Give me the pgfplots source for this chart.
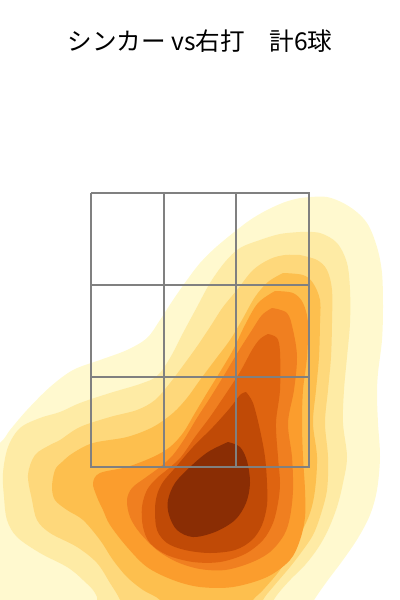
\documentclass[border=0pt]{standalone}
\usepackage{pgfplots}
\pgfplotsset{compat=1.18}
\usepackage{fontspec}
\newfontfamily\cjk{Noto Sans CJK JP}
\definecolor{lv1}{HTML}{FFF9CF}
\definecolor{lv2}{HTML}{FEEBA5}
\definecolor{lv3}{HTML}{FED87B}
\definecolor{lv4}{HTML}{FDBF4E}
\definecolor{lv5}{HTML}{FB9D2D}
\definecolor{lv6}{HTML}{F07F20}
\definecolor{lv7}{HTML}{DF6410}
\definecolor{lv8}{HTML}{C04A06}
\definecolor{lv9}{HTML}{8A2D04}
\definecolor{zone}{HTML}{808080}
\pgfplotsset{
  lvl/.style={fill=#1, draw=none, smooth, tension=0.55},
}
\begin{document}
\begin{tikzpicture}
\begin{axis}[
    hide axis, scale only axis,
    width=10cm, height=15cm,
    xmin=0, xmax=400, ymin=0, ymax=600,
    y dir=reverse, clip=true,
]
% density levels, outermost first (pixel coords of the plot, y down)
\addplot[lvl=lv1] coordinates {
 (300,198) (327,197) (350,207) (367,223) (377,247) (382,273) (383,307) (382,340)
 (378,373) (377,395) (378,423) (380,457) (377,490) (370,515) (358,538) (343,560)
 (328,580) (316,597) (305,615) (290,640) (-40,640) (-40,480) (0,443) (10,430)
 (27,410) (50,387) (73,370) (100,360) (127,350) (147,338) (160,320) (173,300)
 (187,280) (200,263) (215,248) (233,233) (250,220) (267,210) (285,202) (300,198)};
\addplot[lvl=lv2] coordinates {
 (300,232) (320,233) (337,243) (347,263) (350,290) (350,323) (347,357) (344,390)
 (343,423) (347,457) (343,483) (337,507) (328,530) (318,548) (305,565) (290,580)
 (277,595) (268,610) (255,635) (105,635) (97,597) (83,580) (67,567) (40,553)
 (17,537) (7,520) (4,497) (3,473) (8,447) (20,428) (40,418) (60,412) (80,403)
 (110,393) (140,384) (157,376) (170,358) (183,333) (197,307) (210,283) (225,262)
 (240,248) (260,240) (280,234) (300,232)};
\addplot[lvl=lv3] coordinates {
 (300,255) (317,260) (327,270) (332,290) (332,323) (331,357) (328,390) (325,423)
 (328,457) (327,490) (320,517) (313,535) (303,550) (290,567) (273,587) (263,600)
 (255,620) (125,620) (120,600) (110,583) (97,563) (77,547) (50,533) (37,520)
 (32,500) (28,475) (35,455) (50,445) (60,440) (80,427) (110,417) (137,410)
 (155,400) (170,383) (185,363) (198,345) (210,327) (223,307) (237,290) (253,270)
 (270,259) (285,255) (300,255)};
\addplot[lvl=lv4] coordinates {
 (283,273) (303,275) (313,283) (320,300) (320,323) (319,357) (316,390) (313,423)
 (317,457) (315,490) (310,513) (300,535) (290,552) (280,570) (263,590) (253,600)
 (245,615) (165,615) (160,600) (143,590) (127,577) (113,560) (100,540) (83,520)
 (67,510) (55,500) (52,487) (55,470) (62,462) (73,453) (93,443) (127,437)
 (153,427) (173,413) (187,398) (200,380) (215,360) (230,340) (242,320) (255,297)
 (268,282) (283,273)};
\addplot[lvl=lv5] coordinates {
 (275,291) (293,293) (303,303) (308,323) (307,357) (303,390) (302,423) (303,457)
 (305,490) (305,517) (300,540) (290,560) (267,577) (233,587) (200,587) (173,580)
 (147,567) (127,547) (110,525) (103,510) (97,497) (93,483) (100,473) (127,467)
 (153,457) (170,447) (183,433) (195,413) (207,393) (220,372) (233,350) (245,325)
 (258,303) (275,291)};
\addplot[lvl=lv6] coordinates {
 (272,308) (287,313) (293,330) (297,357) (294,390) (288,423) (292,457) (293,490)
 (290,517) (284,535) (270,552) (250,563) (225,570) (200,569) (177,562) (157,550)
 (140,533) (130,517) (127,500) (132,488) (145,478) (160,467) (173,455) (185,438)
 (197,418) (210,398) (223,377) (238,352) (252,330) (262,315) (272,308)};
\addplot[lvl=lv7] coordinates {
 (268,334) (277,338) (280,352) (280,390) (276,423) (278,457) (280,483) (278,503)
 (273,523) (263,540) (245,554) (220,562) (193,562) (167,555) (150,543) (143,527)
 (142,507) (147,490) (157,478) (168,469) (181,457) (195,437) (210,417) (225,395)
 (240,372) (252,350) (260,339) (268,334)};
\addplot[lvl=lv8] coordinates {
 (246,392) (253,403) (260,430) (265,457) (267,483) (267,505) (262,525) (252,540)
 (235,550) (210,553) (185,550) (167,543) (157,530) (155,510) (157,495) (163,482)
 (175,468) (193,447) (213,427) (230,408) (240,395) (246,392)};
\addplot[lvl=lv9] coordinates {
 (228,442) (240,447) (247,461) (250,483) (246,503) (235,520) (215,532) (193,537)
 (177,530) (169,515) (168,500) (175,483) (190,467) (208,452) (228,442)};
% strike zone 3x3
\addplot[zone, line width=0.9pt, line join=miter] coordinates {(91,193) (309,193) (309,467) (91,467) (91,193)};
\addplot[zone, line width=0.9pt] coordinates {(164,193) (164,467)};
\addplot[zone, line width=0.9pt] coordinates {(236,193) (236,467)};
\addplot[zone, line width=0.9pt] coordinates {(91,285) (309,285)};
\addplot[zone, line width=0.9pt] coordinates {(91,377) (309,377)};
\node[anchor=base, inner sep=0pt] at (axis cs:200,50.5)
  {\cjk\fontsize{17.5}{20}\selectfont シンカー vs右打　計6球};
\end{axis}
\pgfresetboundingbox
\useasboundingbox (current axis.south west) rectangle (current axis.north east);
\end{tikzpicture}
\end{document}
